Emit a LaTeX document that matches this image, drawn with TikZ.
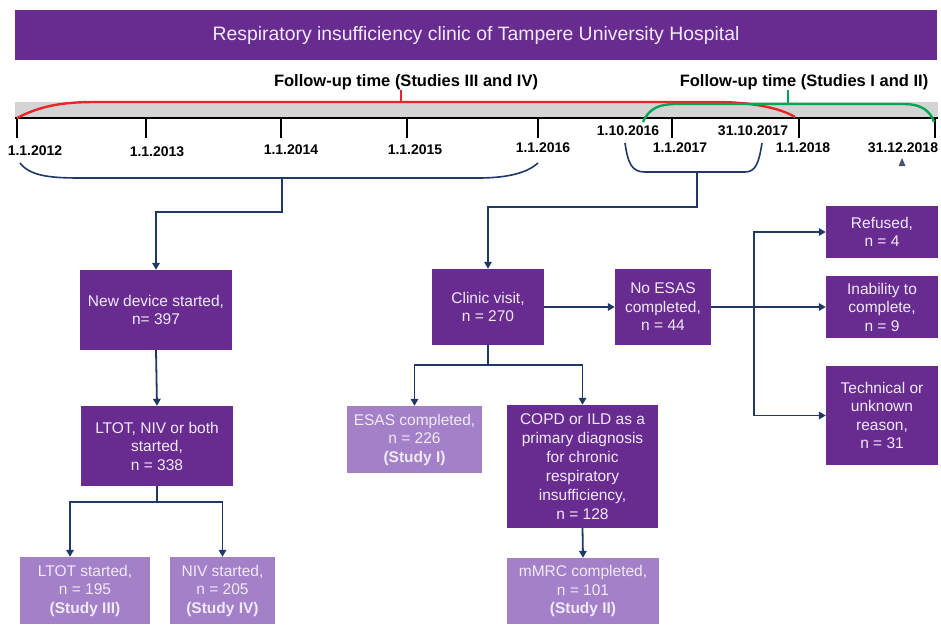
\documentclass[tikz,border=0pt]{standalone}
\usepackage{fontspec}
\setmainfont{Liberation Sans}
\usetikzlibrary{arrows.meta}
\definecolor{dpurple}{RGB}{104,44,145}
\definecolor{lpurple}{RGB}{163,128,200}
\definecolor{navy}{RGB}{31,56,100}
\definecolor{redl}{RGB}{232,38,42}
\definecolor{greenl}{RGB}{0,166,81}
\definecolor{band}{RGB}{212,212,212}
\definecolor{btext}{RGB}{240,234,246}
\begin{document}
\begin{tikzpicture}[x=1pt,y=-1pt,
  box/.style={fill=dpurple, text=btext, inner sep=0pt, align=center, font=\fontsize{15.5}{18.5}\selectfont},
  lbox/.style={box, fill=lpurple},
  conn/.style={navy, line width=1.8pt},
  arr/.style={conn, -{Triangle[length=7pt,width=7.5pt]}},
  brk/.style={navy, line width=1.6pt},
  datel/.style={font=\fontsize{14}{16}\selectfont\bfseries, inner sep=0pt},
  headl/.style={font=\fontsize{16.5}{18}\selectfont\bfseries, inner sep=0pt},
  tick/.style={line width=2.4pt}
]
\useasboundingbox (0,0) rectangle (941,624);

% title
\node[fill=dpurple, text=btext, minimum width=922, minimum height=50, inner sep=0pt,
  font=\fontsize{19.4}{21}\selectfont] (title) at (476,35)
  {Respiratory insufficiency clinic of Tampere University Hospital};

% timeline band
\fill[band] (15,102) rectangle (938,118);
\draw[line width=2pt] (15,118) -- (938,118);
\foreach \x in {17,146,281,407,538,672,799,935}
  \draw[tick] (\x,118) -- (\x,138);

% date labels
\node[datel] (d12) at (35,151) {1.1.2012};
\node[datel] (d13) at (157,152) {1.1.2013};
\node[datel] (d14) at (291,150) {1.1.2014};
\node[datel] (d15) at (415,150) {1.1.2015};
\node[datel] (d16) at (543,148) {1.1.2016};
\node[datel] (d1016) at (628,131) {1.10.2016};
\node[datel] (d17) at (680,148) {1.1.2017};
\node[datel] (d3117) at (753,131) {31.10.2017};
\node[datel] (d18) at (803,148) {1.1.2018};
\node[datel] (d3118) at (903,148) {31.12.2018};
\fill[navy!60!gray] (898.5,166) -- (902,158) -- (905.5,166) -- cycle;

% follow-up brackets
\node[headl] (h34) at (406,82) {Follow-up time (Studies III and IV)};
\node[headl] (h12) at (804,82) {Follow-up time (Studies I and II)};
\coordinate (r0) at (17,118);
\coordinate (r1) at (795,117);
\coordinate (rm) at (401,102);
\draw[redl, line width=2.4pt] (r0) .. controls (40,106) and (62,102) .. (95,102) -- (715,102)
  .. controls (752,102) and (780,108) .. (r1);
\draw[redl, line width=2.4pt] (rm) -- (h34.south -| rm);
\coordinate (g0) at (643,122);
\coordinate (g1) at (934,122);
\coordinate (gm) at (788,104);
\draw[greenl, line width=2.4pt] (g0) .. controls (649,108) and (660,104) .. (676,104) -- (904,104)
  .. controls (920,104) and (930,110) .. (g1);
\draw[greenl, line width=2.4pt] (gm) -- (h12.south -| gm);

% lower brackets
\coordinate (b1l) at (20,163);
\coordinate (b1r) at (538,163);
\coordinate (b1m) at (282,178);
\draw[brk] (b1l) .. controls (30,176) and (50,178) .. (80,178) -- (478,178)
  .. controls (510,178) and (528,172) .. (b1r);
\coordinate (b2l) at (625,143);
\coordinate (b2r) at (762,143);
\coordinate (b2m) at (697,172);
\draw[brk] (b2l) .. controls (628,164) and (632,172) .. (645,172) -- (745,172)
  .. controls (756,172) and (759,162) .. (b2r);

% boxes
\node[box, minimum width=152, minimum height=80] (nd) at (156,310) {New device started,\\ n= 397};
\node[box, minimum width=152, minimum height=80] (lnb) at (157,446) {LTOT, NIV or both\\ started,\\ n = 338};
\node[lbox, minimum width=130, minimum height=67] (lt) at (85,590.5) {LTOT started,\\ n = 195\\ \textbf{(Study III)}};
\node[lbox, minimum width=105, minimum height=67] (nv) at (222.5,590.5) {NIV started,\\ n = 205\\ \textbf{(Study IV)}};
\node[box, minimum width=112, minimum height=76] (cv) at (488,307) {Clinic visit,\\ n = 270};
\node[box, minimum width=96, minimum height=76] (ne) at (663,307) {No ESAS\\ completed,\\ n = 44};
\node[lbox, minimum width=135, minimum height=67] (es) at (414.5,439.5) {ESAS completed,\\ n = 226\\ \textbf{(Study I)}};
\node[box, minimum width=151, minimum height=123, font=\fontsize{15.5}{19}\selectfont] (cp) at (582.5,466.5)
  {COPD or ILD as a\\ primary diagnosis\\ for chronic\\ respiratory\\ insufficiency,\\ n = 128};
\node[lbox, minimum width=152, minimum height=66] (mm) at (583,591) {mMRC completed,\\ n = 101\\ \textbf{(Study II)}};
\node[box, minimum width=112, minimum height=52] (rf) at (882,232) {Refused,\\ n = 4};
\node[box, minimum width=112, minimum height=62] (ib) at (882,307) {Inability to\\ complete,\\ n = 9};
\node[box, minimum width=112, minimum height=99] (tc) at (882,415.5) {Technical or\\ unknown\\ reason,\\ n = 31};

% connectors
\coordinate (k1) at (282,212);
\draw[arr] (b1m) -- (k1) -| (nd.north);
\coordinate (k2) at (697,207);
\draw[arr] (b2m) -- (k2) -| (cv.north);
\draw[arr] (nd.south) -- (lnb.north);
\coordinate (s1) at (157,502);
\draw[conn] (lnb.south) -- (s1);
\draw[arr] (s1) -| ([xshift=-15pt]lt.north);
\draw[arr] (s1) -| (nv.north);
\coordinate (s2) at (488,365);
\draw[conn] (cv.south) -- (s2);
\draw[arr] (s2) -| (es.north);
\draw[arr] (s2) -| (cp.north);
\draw[arr] (cp.south) -- (mm.north);
\draw[arr] (cv.east) -- (ne.west);
\draw[arr] (ne.east) -- (ib.west);
\coordinate (v) at (754,307);
\draw[arr] (v) |- (rf.west);
\draw[arr] (v) |- (tc.west);
\end{tikzpicture}
\end{document}
